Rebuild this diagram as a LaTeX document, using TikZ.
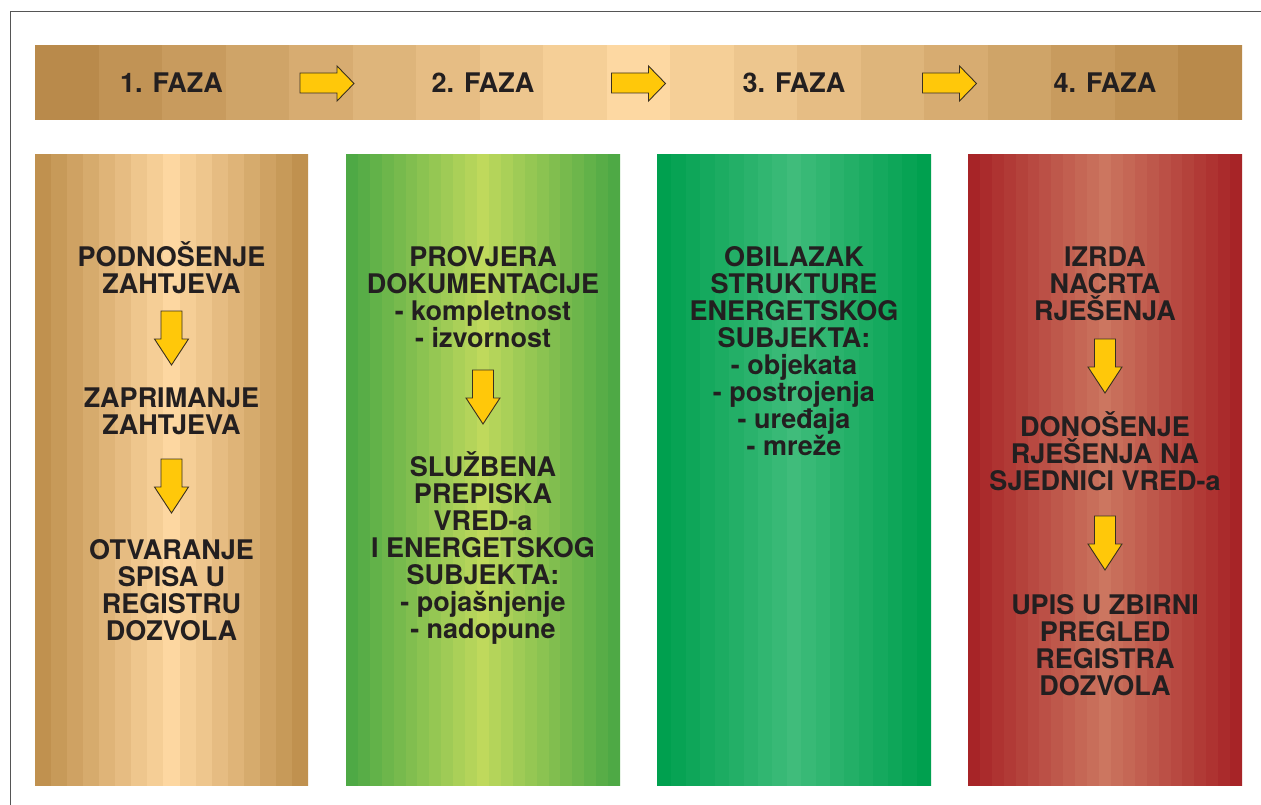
\documentclass[tikz,border=0pt]{standalone}
\usepackage{fontspec}
\setmainfont{TeX Gyre Heros}
\definecolor{ink}{HTML}{231F20}
\definecolor{arrowyellow}{HTML}{FFC80A}
\definecolor{arrowline}{HTML}{3A3020}
\definecolor{framegray}{HTML}{555555}
\definecolor{topdark}{HTML}{B98A4B}
\definecolor{toplight}{HTML}{FDD8A2}
\definecolor{cadark}{HTML}{C0914F}
\definecolor{calight}{HTML}{FDD7A1}
\definecolor{cbdark}{HTML}{4EA945}
\definecolor{cblight}{HTML}{BFD95C}
\definecolor{ccdark}{HTML}{00A04F}
\definecolor{cclight}{HTML}{40BC7B}
\definecolor{cddark}{HTML}{A72427}
\definecolor{cdlight}{HTML}{CC7660}
\newcommand\firstln{\rule{0pt}{26pt}}
\newcommand\colfont{\bfseries\fontsize{27}{27}\selectfont\setlength{\lineskiplimit}{-40pt}\setlength{\lineskip}{0pt}}
\newcommand\phasefont{\bfseries\fontsize{27}{30}\selectfont}
% striped box: x0, y0, x1, y1, number of stripes (odd), dark, light
\newcommand\stripebox[7]{%
  \begin{scope}
    \clip (#1,#2) rectangle (#3,#4);
    \pgfmathsetmacro\sbw{(#3-#1)/#5}
    \pgfmathtruncatemacro\sbn{#5-1}
    \pgfmathsetmacro\sbh{(#5-1)/2}
    \foreach \i in {0,...,\sbn}{
      \pgfmathtruncatemacro\p{100*(1-abs(\i-\sbh)/\sbh)}
      \fill[#7!\p!#6] ({#1+\i*\sbw},#2) rectangle ({#1+(\i+1)*\sbw+0.6},#4);
    }
  \end{scope}}
\newcommand\rightarr[1]{%
  \draw[yarrow] ({#1-27},73) -- ({#1+10},73) -- ({#1+10},66) -- ({#1+27},83.5)
    -- ({#1+10},101) -- ({#1+10},93) -- ({#1-27},93) -- cycle;}
\newcommand\downarr[2]{%
  \draw[yarrow] ({#1-10.5},#2) -- ({#1+10.5},#2) -- ({#1+10.5},{#2+28}) -- ({#1+17},{#2+28})
    -- (#1,{#2+54}) -- ({#1-17},{#2+28}) -- ({#1-10.5},{#2+28}) -- cycle;}
\tikzset{
  txt/.style={text=ink, font=\colfont, align=center, inner sep=0pt, anchor=north},
  phase/.style={text=ink, font=\phasefont, inner sep=0pt, anchor=base},
  yarrow/.style={fill=arrowyellow, draw=arrowline, line width=0.9pt, line join=miter},
  frame/.style={draw=framegray, line width=1pt}
}
\begin{document}
\begin{tikzpicture}[x=1pt,y=-1pt]
\useasboundingbox[fill=white] (0,0) rectangle (1261,805);
\begin{scope}
\clip (0,0) rectangle (1261,805);
\draw[frame] (10,830) -- (10,12) -- (1290,12);
\end{scope}
% top bar
\stripebox{35}{45}{1242}{120}{19}{topdark}{toplight}
% columns
\stripebox{35}{154}{308}{786}{17}{cadark}{calight}
\stripebox{346}{154}{620}{786}{23}{cbdark}{cblight}
\stripebox{657}{154}{931}{786}{19}{ccdark}{cclight}
\stripebox{968}{154}{1242}{786}{23}{cddark}{cdlight}
% phase titles
\node[phase] (f1) at (171.5,93) {1. FAZA};
\node[phase] (f2) at (483,93) {2. FAZA};
\node[phase] (f3) at (794,93) {3. FAZA};
\node[phase] (f4) at (1105,93) {4. FAZA};
\rightarr{327}
\rightarr{638.5}
\rightarr{949.5}
% column 1
\node[txt] (a1) at (171.5,240) {\firstln PODNOŠENJE\\ZAHTJEVA};
\node[txt] (a2) at (171.5,381) {\firstln ZAPRIMANJE\\ZAHTJEVA};
\node[txt] (a3) at (171.5,533) {\firstln OTVARANJE\\SPISA U\\REGISTRU\\DOZVOLA};
\downarr{171.5}{311}
\downarr{171.5}{459}
% column 2
\node[txt] (b1) at (483,240) {\firstln PROVJERA\\DOKUMENTACIJE\\- kompletnost\\- izvornost};
\node[txt] (b2) at (483,450) {\firstln SLUŽBENA\\PREPISKA\\VRED-a\\I ENERGETSKOG\\SUBJEKTA:\\- pojašnjenje\\- nadopune};
\downarr{483}{370}
% column 3
\node[txt] (c1) at (794,240) {\firstln OBILAZAK\\STRUKTURE\\ENERGETSKOG\\SUBJEKTA:\\- objekata\\- postrojenja\\- uređaja\\- mreže};
% column 4
\node[txt] (d1) at (1105,240) {\firstln IZRDA\\NACRTA\\RJEŠENJA};
\node[txt] (d2) at (1105,410) {\firstln DONOŠENJE\\RJEŠENJA NA\\SJEDNICI VRED-a};
\node[txt] (d3) at (1105,588) {\firstln UPIS U ZBIRNI\\PREGLED\\REGISTRA\\DOZVOLA};
\downarr{1105}{339}
\downarr{1105}{516}
\end{tikzpicture}
\end{document}
